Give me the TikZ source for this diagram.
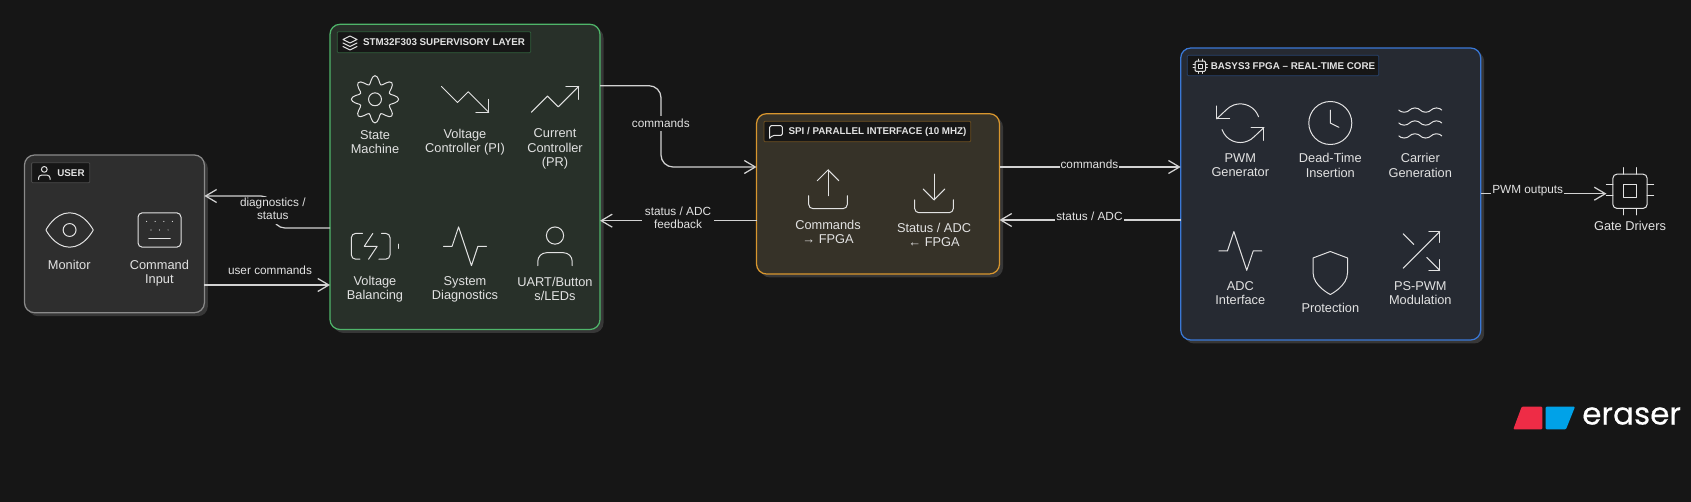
\documentclass[tikz,border=0pt]{standalone}
\usepackage{fontspec}
\setmainfont{Liberation Sans}
\newfontfamily\logofont[FakeBold=0.35]{Poppins}
\usetikzlibrary{arrows.meta,shadows}
\definecolor{bg}{HTML}{161616}
\definecolor{ink}{HTML}{E2E2E2}
\definecolor{wire}{HTML}{D2D2D2}
\definecolor{userfill}{HTML}{2E2E2E}
\definecolor{userline}{HTML}{8A8A8A}
\definecolor{greenfill}{HTML}{283029}
\definecolor{greenline}{HTML}{4FB56A}
\definecolor{amberfill}{HTML}{363228}
\definecolor{amberline}{HTML}{D8962E}
\definecolor{bluefill}{HTML}{262A32}
\definecolor{blueline}{HTML}{3A78D6}
\definecolor{shadowc}{HTML}{373737}
\definecolor{logored}{HTML}{EE2C46}
\definecolor{logoblue}{HTML}{00A2E8}
\newcommand\icn[5]{\begin{scope}[shift={(#1,#2)},x=#3pt,y=-#4pt,shift={(-12,-12)},icon]#5\end{scope}}
\tikzset{
  icon/.style={draw=ink,line width=1pt,line join=round,line cap=round},
  panel/.style={rounded corners=10pt,line width=1.25pt,inner sep=0pt,outer sep=0pt,
    drop shadow={shadow xshift=3.5pt,shadow yshift=-3.5pt,fill=shadowc,opacity=1}},
  tagbox/.style={rounded corners=1pt,line width=.8pt,fill=bg,inner sep=0pt,outer sep=0pt},
  tagtext/.style={text=ink,font=\fontsize{9.8}{11}\selectfont\bfseries,inner sep=0pt},
  txt/.style={text=ink,align=center,inner sep=0pt,font=\fontsize{12.8}{14.2}\selectfont},
  lab/.style={text=ink,align=center,fill=bg,inner sep=1pt,font=\fontsize{11.8}{13.2}\selectfont},
  labnf/.style={text=ink,align=center,inner sep=0pt,font=\fontsize{11.8}{13.2}\selectfont},
  conn/.style={draw=wire,line width=1.25pt,-{Straight Barb[length=11pt,width=13pt]}},
}
\begin{document}
\begin{tikzpicture}[x=1pt,y=-1pt]
\fill[bg] (0,0) rectangle (1691,502);
\useasboundingbox (0,0) rectangle (1691,502);

% panels
\node[panel,draw=userline,fill=userfill,minimum width=179.9pt,minimum height=157.7pt] (user) at (114.45,233.85) {};
\node[panel,draw=greenline,fill=greenfill,minimum width=270pt,minimum height=305.2pt] (stm) at (465,176.9) {};
\node[panel,draw=amberline,fill=amberfill,minimum width=243pt,minimum height=160.3pt] (spi) at (878,193.85) {};
\node[panel,draw=blueline,fill=bluefill,minimum width=300pt,minimum height=292pt] (fpga) at (1330.7,194) {};
\node[inner sep=0pt,outer sep=0pt,minimum size=47pt] (drv) at (1630,191.3) {};

% tags
\node[tagbox,draw=userline!45!bg,minimum width=58.2pt,minimum height=20pt] (usertag) at (60.7,172.7) {};
\node[tagtext] (usertxt) at (71,173) {USER};
\node[tagbox,draw=greenline!45!bg,minimum width=193.4pt,minimum height=21pt] (stmtag) at (434,42.2) {};
\node[tagtext] (stmtxt) at (444,42.3) {STM32F303 SUPERVISORY LAYER};
\node[tagbox,draw=amberline!45!bg,minimum width=206.8pt,minimum height=20.4pt] (spitag) at (867.4,131.5) {};
\node[tagtext] (spitxt) at (877.5,132) {SPI / PARALLEL INTERFACE (10 MHZ)};
\node[tagbox,draw=blueline!45!bg,minimum width=191.4pt,minimum height=20.4pt] (fpgatag) at (1283,65.5) {};
\node[tagtext] (fpgatxt) at (1293,66) {BASYS3 FPGA – REAL-TIME CORE};

% tag icons
\icn{44.3}{173}{.72}{.72}{\draw[rounded corners=2.9pt] (4,21)--(4,15)--(20,15)--(20,21); \draw (12,7) circle[radius=4];}
\icn{350}{43}{.7}{.7}{\draw (12,2)--(2,7)--(12,12)--(22,7)--cycle; \draw (2,17)--(12,22)--(22,17); \draw (2,12)--(12,17)--(22,12);}
\icn{776}{132}{.7}{.7}{\draw (3,21) [rounded corners=1.4pt] -- (3,3) -- (21,3) -- (21,17) -- (7,17) [sharp corners] -- (3,21) -- cycle;}
\icn{1200.3}{66.3}{.65}{.65}{\draw[rounded corners=1.3pt] (4,4) rectangle (20,20); \draw (9,9) rectangle (15,15);
  \draw (9,1)--(9,4) (15,1)--(15,4) (9,20)--(9,23) (15,20)--(15,23) (20,9)--(23,9) (20,14)--(23,14) (1,9)--(4,9) (1,14)--(4,14);}

% USER icons
\icn{69.6}{230}{2.15}{2.15}{\draw (1,12) .. controls (1,12) and (5,4) .. (12,4) .. controls (19,4) and (23,12) .. (23,12) .. controls (23,12) and (19,20) .. (12,20) .. controls (5,20) and (1,12) .. (1,12) -- cycle; \draw (12,12) circle[radius=3];}
\icn{159.5}{230}{2.15}{2.15}{\draw[rounded corners=4.3pt] (2,4) rectangle (22,20); \draw (7,16)--(17,16);
  \foreach \a/\b in {6/8,10/8,14/8,18/8,8/12,12/12,16/12}{\fill[ink,draw=none] (\a,\b) circle[radius=.28];}}
\node[txt] (t1) at (69.2,265) {Monitor};
\node[txt] (t2) at (159.4,273) {Command\\Input};

% STM32 icons
\icn{375}{99.3}{2.15}{2.15}{\draw plot[smooth cycle,samples=64,domain=0:354.375] ({12+(9.1+1.9*cos(8*\x))*cos(\x)},{12+(9.1+1.9*cos(8*\x))*sin(\x)}); \draw (12,12) circle[radius=3];}
\icn{465}{99.3}{2.15}{2.15}{\draw (23,18)--(13.5,8.5)--(8.5,13.5)--(1,6); \draw (17,18)--(23,18)--(23,12);}
\icn{555}{99.3}{2.15}{2.15}{\draw (23,6)--(13.5,15.5)--(8.5,10.5)--(1,18); \draw (17,6)--(23,6)--(23,12);}
\icn{375}{246.3}{2.15}{2.15}{\draw[rounded corners=4.3pt] (5,18)--(1,18)--(1,6)--(6.19,6); \draw[rounded corners=4.3pt] (15,6)--(19,6)--(19,18)--(13.81,18); \draw (23,13)--(23,11); \draw (11,6)--(7,12)--(13,12)--(9,18);}
\icn{465}{246.3}{2.15}{2.15}{\draw (22,12)--(18,12)--(15,21)--(9,3)--(6,12)--(2,12);}
\icn{555}{246.3}{2.15}{2.15}{\draw[rounded corners=8.6pt] (4,21)--(4,15)--(20,15)--(20,21); \draw (12,7) circle[radius=4];}
\node[txt] (t3) at (375,142) {State\\Machine};
\node[txt] (t4) at (465,142) {Voltage\\Controller (PI)};
\node[txt] (t5) at (555,149) {Current\\Controller\\(PR)};
\node[txt] (t6) at (375,289) {Voltage\\Balancing};
\node[txt] (t7) at (465,289) {System\\Diagnostics};
\node[txt] (t8) at (555,289) {UART/Button\\s/LEDs};

% SPI icons
\icn{828}{189.3}{2.15}{2.15}{\draw[rounded corners=4.3pt] (21,15)--(21,21)--(3,21)--(3,15); \draw (17,8)--(12,3)--(7,8); \draw (12,3)--(12,15);}
\icn{934}{193.4}{2.15}{2.15}{\draw[rounded corners=4.3pt] (21,15)--(21,21)--(3,21)--(3,15); \draw (7,10)--(12,15)--(17,10); \draw (12,15)--(12,3);}
\node[txt] (t9) at (828,231.7) {Commands\\→ FPGA};
\node[txt] (t10) at (934,235.3) {Status / ADC\\← FPGA};

% FPGA icons
\icn{1240.3}{123.2}{2.15}{2.15}{\draw (1,4)--(1,10)--(7,10); \draw (23,20)--(23,14)--(17,14);
  \draw (20.49,9) arc[start angle=-19.5,end angle=-135,radius=9] -- (1,10);
  \draw (23,14) -- (18.36,18.36) arc[start angle=45,end angle=160.5,radius=9];}
\icn{1330.3}{123}{2.15}{2.15}{\draw (12,12) circle[radius=10]; \draw (12,6)--(12,12)--(16,14);}
\icn{1420.3}{123}{2.15}{2.15}{\foreach \d in {0,6,12}{\draw[yshift=\d*-2.15pt] (2,6) .. controls (2.6,6.5) and (3.2,7) .. (4.5,7) .. controls (7,7) and (7,5) .. (9.5,5) .. controls (12.1,5) and (11.9,7) .. (14.5,7) .. controls (17,7) and (17,5) .. (19.5,5) .. controls (20.8,5) and (21.4,5.5) .. (22,6);}}
\icn{1240.3}{251}{2.15}{2.15}{\draw (22,12)--(18,12)--(15,21)--(9,3)--(6,12)--(2,12);}
\icn{1330.3}{273}{2.15}{2.15}{\draw (12,22) .. controls (12,22) and (20,18) .. (20,12) -- (20,5) -- (12,2) -- (4,5) -- (4,12) .. controls (4,18) and (12,22) .. (12,22) -- cycle;}
\icn{1420.3}{251}{2.15}{2.15}{\draw (16,3)--(21,3)--(21,8); \draw (4,20)--(21,3); \draw (21,16)--(21,21)--(16,21); \draw (15,15)--(21,21); \draw (4,4)--(9,9);}
\node[txt] (t11) at (1240.3,165.5) {PWM\\Generator};
\node[txt] (t12) at (1330.3,165.5) {Dead-Time\\Insertion};
\node[txt] (t13) at (1420.3,165.5) {Carrier\\Generation};
\node[txt] (t14) at (1240.3,293.2) {ADC\\Interface};
\node[txt] (t15) at (1330.3,308.3) {Protection};
\node[txt] (t16) at (1420.3,293.2) {PS-PWM\\Modulation};

% gate driver
\icn{1630}{191.3}{2.15}{2.15}{\draw[rounded corners=4.3pt] (4,4) rectangle (20,20); \draw (9,9) rectangle (15,15);
  \draw (9,1)--(9,4) (15,1)--(15,4) (9,20)--(9,23) (15,20)--(15,23) (20,9)--(23,9) (20,14)--(23,14) (1,9)--(4,9) (1,14)--(4,14);}
\node[txt] (t17) at (1630,226.3) {Gate Drivers};

% connectors
\draw[conn,rounded corners=12pt] (stm.west |- 0,228) -- (273,228) -- (273,196) -- (user.east |- 0,196);
\draw[conn] (user.east |- 0,285) -- (stm.west |- 0,285);
\draw[conn,rounded corners=12pt] (stm.east |- 0,85.7) -- (661,85.7) -- (661,167) -- (spi.west |- 0,167);
\draw[conn] (spi.west |- 0,220.7) -- (stm.east |- 0,220.7);
\draw[conn] (spi.east |- 0,167) -- (fpga.west |- 0,167);
\draw[conn] (fpga.west |- 0,220) -- (spi.east |- 0,220);
\draw[conn] (fpga.east |- 0,193.7) -- (drv.west |- 0,193.7);

% connector labels
\node[fill=bg,inner sep=0pt,minimum width=66pt,minimum height=27pt] (l1bg) at (273,210.5) {};
\node[labnf] (l1) at (272.8,209) {diagnostics /\\status};
\node[labnf] (l2) at (270,270) {user commands};
\node[lab,inner ysep=3pt] (l3) at (660.8,123.3) {commands};
\node[lab,inner xsep=3pt] (l4) at (678,217.7) {status / ADC\\feedback};
\node[lab] (l5) at (1089.4,164) {commands};
\node[lab] (l6) at (1089.4,216.7) {status / ADC};
\node[lab] (l7) at (1527.7,190.7) {PWM outputs};

% logo
\fill[logored,rounded corners=1pt] (1513.3,429.3)--(1521.7,406.7)--(1542.3,406.7)--(1542.3,429.3)--cycle;
\fill[logoblue,rounded corners=1pt] (1545.7,406.7)--(1575,406.7)--(1566,429.3)--(1545.7,429.3)--cycle;
\node[text=white,inner sep=0pt,font=\logofont\fontsize{31}{34}\selectfont] (logo) at (1631.6,416) {eraser};
\end{tikzpicture}
\end{document}
